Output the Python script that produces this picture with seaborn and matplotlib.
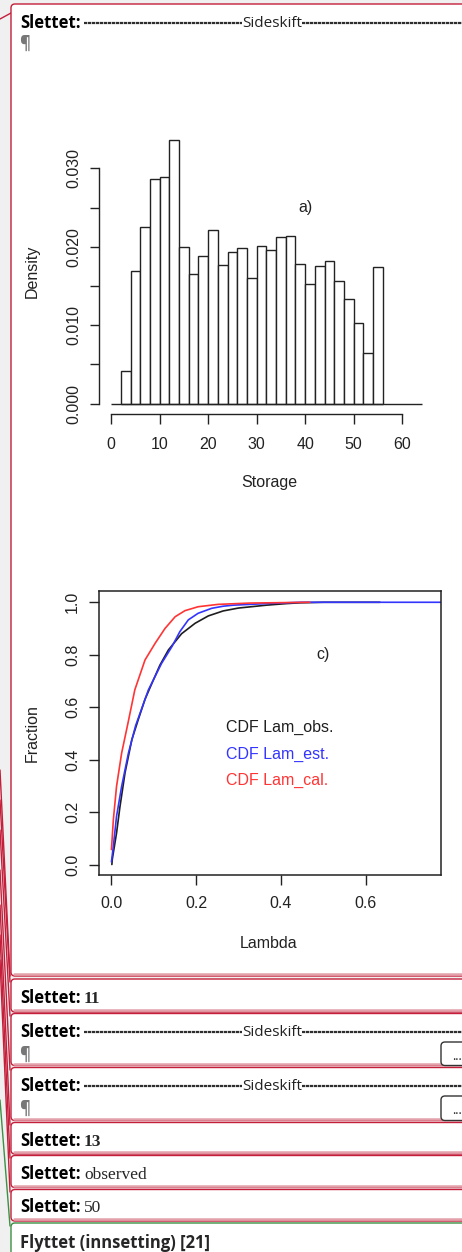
import matplotlib
matplotlib.use("Agg")
import matplotlib.pyplot as plt
import seaborn as sns
import numpy as np
import pandas as pd
from matplotlib.patches import FancyBboxPatch

# ---- data ----
storage_edges = [2, 4, 6, 8, 10, 12, 14, 16, 18, 20, 22, 24, 26, 28, 30,
                 32, 34, 36, 38, 40, 42, 44, 46, 48, 50, 52, 54, 56]
storage_density = [0.0041, 0.0169, 0.0225, 0.0286, 0.0289, 0.0336, 0.0200,
                   0.0165, 0.0188, 0.0222, 0.0177, 0.0193, 0.0199, 0.0160,
                   0.0201, 0.0196, 0.0212, 0.0214, 0.0178, 0.0152, 0.0175,
                   0.0182, 0.0157, 0.0134, 0.0103, 0.0064, 0.0174]
storage_ticks = [0, 10, 20, 30, 40, 50, 60]
density_ticks = [0.000, 0.005, 0.010, 0.015, 0.020, 0.025, 0.030]
density_labels = ["0.000", "", "0.010", "", "0.020", "", "0.030"]

lam_obs_x = [0.002, 0.003, 0.013, 0.021, 0.033, 0.049, 0.064, 0.080, 0.096,
             0.115, 0.135, 0.166, 0.198, 0.229, 0.264, 0.300, 0.366, 0.413,
             0.445, 0.500, 0.633]
lam_obs_y = [0.0, 0.02, 0.12, 0.22, 0.35, 0.476, 0.552, 0.63, 0.69, 0.76,
             0.818, 0.88, 0.92, 0.948, 0.967, 0.978, 0.989, 0.995, 0.998,
             1.0, 1.0]
lam_est_x = [0.001, 0.0055, 0.013, 0.025, 0.041, 0.058, 0.088, 0.119, 0.143,
             0.162, 0.182, 0.205, 0.237, 0.264, 0.288, 0.366, 0.445, 0.80]
lam_est_y = [0.01, 0.07, 0.184, 0.298, 0.425, 0.53, 0.666, 0.767, 0.83,
             0.888, 0.933, 0.958, 0.977, 0.985, 0.989, 0.995, 1.0, 1.0]
lam_cal_x = [0.001, 0.0055, 0.013, 0.025, 0.040, 0.056, 0.080, 0.104, 0.127,
             0.151, 0.174, 0.205, 0.252, 0.327, 0.468]
lam_cal_y = [0.057, 0.171, 0.298, 0.425, 0.54, 0.666, 0.78, 0.844, 0.90,
             0.945, 0.968, 0.983, 0.992, 0.997, 1.0]
series_names = ["CDF Lam_obs.", "CDF Lam_est.", "CDF Lam_cal."]
series_colors = ["#1e1e1e", "#3434ff", "#ff3434"]
lambda_ticks = [0.0, 0.2, 0.4, 0.6]
fraction_ticks = [0.0, 0.2, 0.4, 0.6, 0.8, 1.0]

# top and bottom of the small comment balloons
balloon_tops = [979, 1013.5, 1067.5, 1122.5, 1155.5, 1189.5]
balloon_bottoms = [1012, 1065.5, 1120.5, 1154, 1187.5, 1221]

W, H = 462, 1252
RED = "#c41e3a"
PINK = "#e3a1ab"
GREEN = "#3f8f45"
SANS = ["Open Sans", "DejaVu Sans"]
SERIF = ["Liberation Serif"]
RFONT = ["Liberation Sans", "DejaVu Sans"]
INK = "#222222"
DOC_FS = 12

sns.set_theme(style="white")
plt.rcParams["font.family"] = RFONT

fig = plt.figure(figsize=(W / 100, H / 100), dpi=100)
fig.patch.set_facecolor("#f0f0f0")

bg = fig.add_axes([0, 0, 1, 1])
bg.set_xlim(0, W)
bg.set_ylim(H, 0)
bg.axis("off")


def px_rect(l, t, r, b):
    return [l / W, 1 - b / H, (r - l) / W, (b - t) / H]


# connector lines in the left margin
bg.plot([0, 11], [19, 13], color=RED, lw=1.0)
for y0, y1 in [(770, 976), (800, 982), (830, 1016), (870, 1070),
               (905, 1125), (935, 1158), (960, 1192)]:
    bg.plot([0, 10], [y0, y1], color=RED, lw=1.0)
bg.plot([0, 10], [1100, 1226], color=GREEN, lw=1.0)


def balloon(top, bottom, color=RED, shade=True):
    bg.add_patch(FancyBboxPatch((11, top), 470 - 11, bottom - top,
                                boxstyle="round,pad=0,rounding_size=4",
                                fc="white", ec=color, lw=1.0, zorder=2))
    if shade:
        bg.plot([14, 470], [bottom - 1.7, bottom - 1.7], color=PINK,
                lw=1.8, zorder=3)


balloon(4, 976)
for t, b in zip(balloon_tops, balloon_bottoms):
    balloon(t, b)
balloon(1223, 1275, GREEN, shade=False)


def slettet(yb):
    bg.text(20, yb, "Slettet:", family=SANS, fontweight="bold",
            fontsize=DOC_FS, va="baseline", color="black", zorder=4)


def pilcrow(yb):
    bg.text(19, yb, "¶", family=SANS, fontweight="bold", fontsize=12,
            va="baseline", color="#777777", zorder=4)


def sideskift(yb):
    slettet(yb)
    ly = yb - 5
    for xa, xb in [(84, 242), (302, 470)]:
        bg.plot([xa, xb], [ly, ly], color="#2e2e2e", lw=1.6,
                ls=(0, (1.5, 0.3)), zorder=4)
    bg.text(272, yb - 1, "Sideskift", family=SANS, fontsize=11,
            ha="center", va="baseline", color=INK, zorder=4)


def more_button(top, bottom):
    bg.add_patch(FancyBboxPatch((441, top), 40, bottom - top,
                                boxstyle="round,pad=0,rounding_size=4",
                                fc="white", ec="#333333", lw=1.0, zorder=4))
    bg.text(452, bottom - 6, "...", family=SANS, fontsize=9,
            va="baseline", color=INK, zorder=5)


sideskift(28.3)
pilcrow(49)

slettet(1003.3)
bg.text(84, 1003.3, "11", family=SERIF, fontweight="bold",
        fontsize=12.5, va="baseline", zorder=4)
sideskift(1036.7)
pilcrow(1060)
more_button(1042, 1065.5)
sideskift(1090.7)
pilcrow(1114)
more_button(1096, 1120.5)
slettet(1145.7)
bg.text(84, 1145.7, "13", family=SERIF, fontweight="bold",
        fontsize=12.5, va="baseline", zorder=4)
slettet(1179)
bg.text(84, 1179, "observed", family=SERIF, fontsize=12.5,
        va="baseline", zorder=4)
slettet(1212.3)
bg.text(84, 1212.3, "50", family=SERIF, fontsize=12.5,
        va="baseline", zorder=4)
bg.text(20, 1248, "Flyttet (innsetting) [21]", family=SANS,
        fontweight="bold", fontsize=DOC_FS, va="baseline", zorder=4)

# ---- a) histogram of storage ----
ax1 = fig.add_axes(px_rect(98.7, 129.3, 434, 414))
ax1.set_facecolor("none")
mids = [(a + b) / 2 for a, b in zip(storage_edges[:-1], storage_edges[1:])]
sns.histplot(x=mids, weights=storage_density, bins=storage_edges,
             stat="count", color="white", edgecolor=INK, linewidth=1.0,
             alpha=1, ax=ax1)
ax1.hlines(0, storage_ticks[0], 64, color=INK, lw=1.0)
ax1.set_xlim(-2.56, 66.56)
ax1.set_ylim(-0.00134, 0.035)
for s in ["top", "right"]:
    ax1.spines[s].set_visible(False)
for s in ["left", "bottom"]:
    ax1.spines[s].set_color(INK)
    ax1.spines[s].set_linewidth(1.0)
ax1.spines["left"].set_bounds(density_ticks[0], density_ticks[-1])
ax1.spines["bottom"].set_bounds(storage_ticks[0], storage_ticks[-1])
ax1.set_xticks(storage_ticks)
ax1.set_yticks(density_ticks)
ax1.set_yticklabels(density_labels)
ax1.tick_params(axis="x", length=7.5, width=1.0, color=INK, pad=9,
                labelsize=11.5, labelcolor=INK, bottom=True)
ax1.tick_params(axis="y", length=6.3, width=1.0, color=INK, pad=6,
                labelsize=11.5, labelcolor=INK, left=True, labelrotation=90)
for lbl in ax1.get_yticklabels():
    lbl.set_va("center")
ax1.set_xlabel("Storage", fontsize=11.5, color=INK)
ax1.set_ylabel("Density", fontsize=11.5, color=INK)
ax1.xaxis.set_label_coords((269 - 98.7) / (434 - 98.7),
                           (414 - 482.7) / (414 - 129.3))
ax1.xaxis.label.set_va("center")
ax1.yaxis.set_label_coords((32.3 - 98.7) / (434 - 98.7),
                           (414 - 271.7) / (414 - 129.3))
ax1.yaxis.label.set_va("center")
ax1.text(40, 0.025, "a)", fontsize=11.5, color=INK, ha="center",
         va="center")

# ---- c) CDF of lambda ----
ax2 = fig.add_axes(px_rect(98.7, 591, 440.7, 875))
ax2.set_facecolor("none")
cdf = pd.concat([
    pd.DataFrame({"lam": lam_obs_x, "frac": lam_obs_y, "series": series_names[0]}),
    pd.DataFrame({"lam": lam_est_x, "frac": lam_est_y, "series": series_names[1]}),
    pd.DataFrame({"lam": lam_cal_x, "frac": lam_cal_y, "series": series_names[2]}),
])
sns.lineplot(data=cdf, x="lam", y="frac", hue="series",
             palette=dict(zip(series_names, series_colors)),
             estimator=None, sort=False, lw=1.2, legend=False, ax=ax2)
ax2.set_xlim(-0.029, 0.776)
ax2.set_ylim(-0.04, 1.043)
for s in ax2.spines.values():
    s.set_visible(True)
    s.set_color(INK)
    s.set_linewidth(1.1)
ax2.set_xticks(lambda_ticks)
ax2.set_xticklabels([f"{v:.1f}" for v in lambda_ticks])
ax2.set_yticks(fraction_ticks)
ax2.set_yticklabels([f"{v:.1f}" for v in fraction_ticks])
ax2.tick_params(axis="x", length=7, width=1.0, color=INK, pad=8,
                labelsize=11.5, labelcolor=INK, bottom=True)
ax2.tick_params(axis="y", length=7, width=1.0, color=INK, pad=6.5,
                labelsize=11.5, labelcolor=INK, left=True, labelrotation=90)
for lbl in ax2.get_yticklabels():
    lbl.set_va("center")
ax2.set_xlabel("Lambda", fontsize=11.5, color=INK)
ax2.set_ylabel("Fraction", fontsize=11.5, color=INK)
ax2.xaxis.set_label_coords((269 - 98.7) / (440.7 - 98.7),
                           (875 - 944) / (875 - 591))
ax2.xaxis.label.set_va("center")
ax2.yaxis.set_label_coords((32 - 98.7) / (440.7 - 98.7),
                           (875 - 733) / (875 - 591))
ax2.yaxis.label.set_va("center")
ax2.text(0.498, 0.80, "c)", fontsize=11.5, color=INK, ha="center",
         va="center")
for name, col, yy in zip(series_names, series_colors, [0.523, 0.42, 0.32]):
    ax2.text(0.27, yy, name, fontsize=11.5, color=col, ha="left",
             va="center")

fig.savefig("out.png", dpi=100, facecolor=fig.get_facecolor())
